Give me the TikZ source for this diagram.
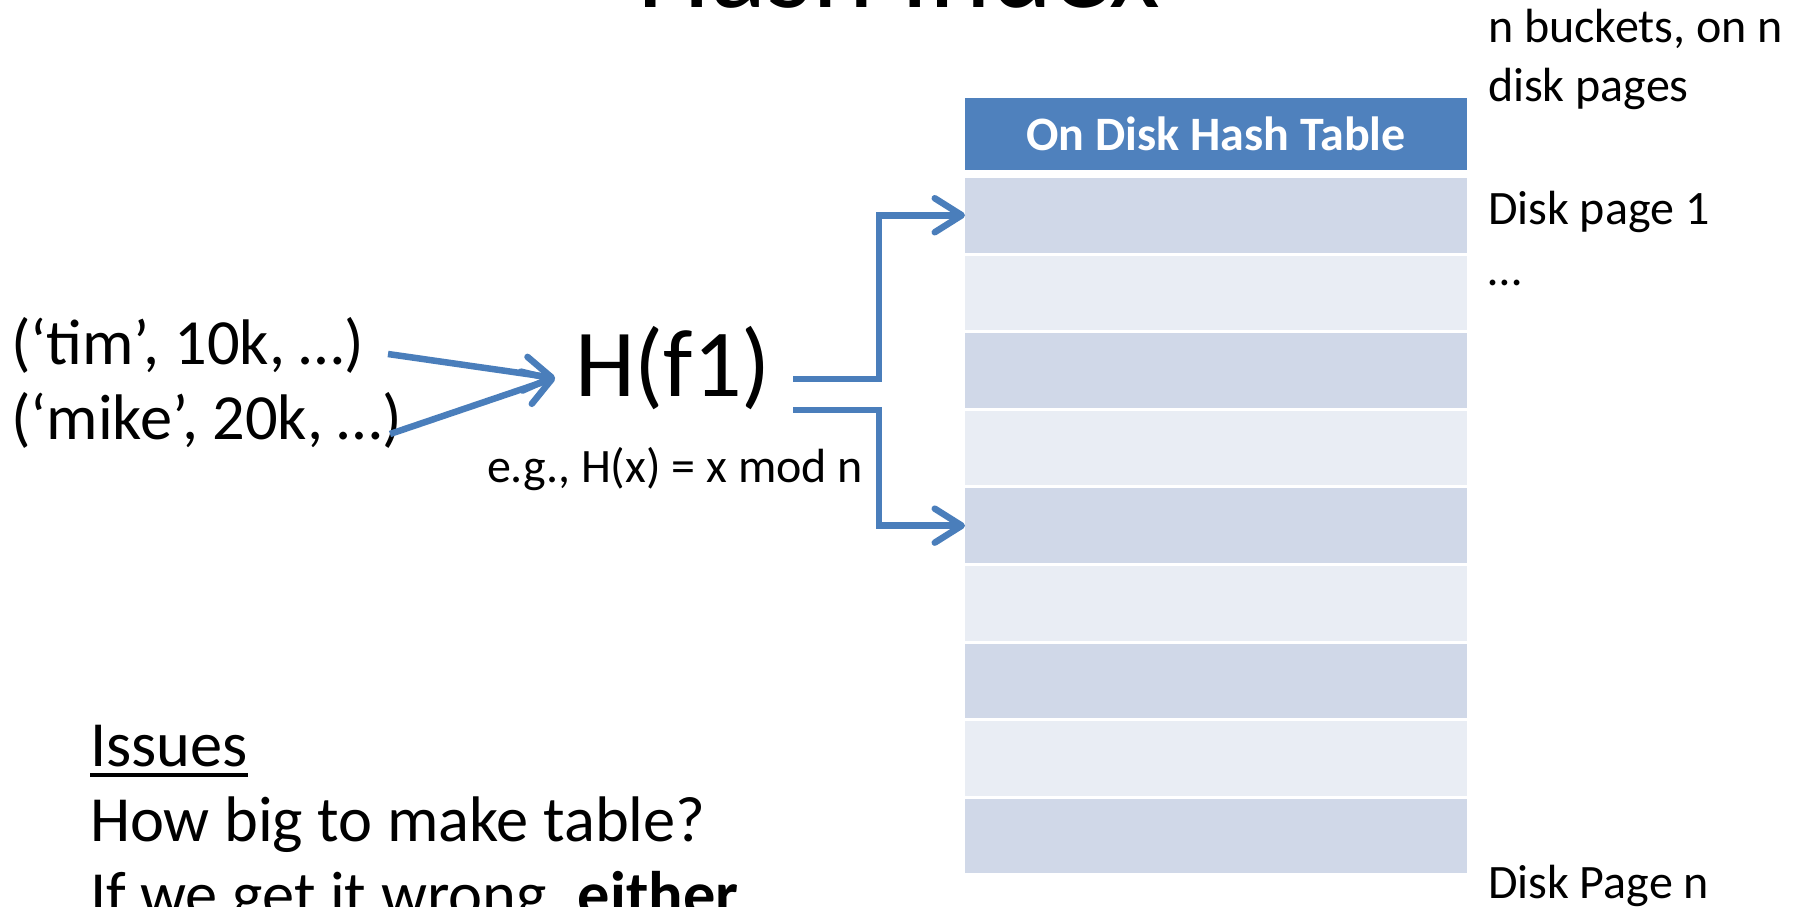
\documentclass[tikz,border=0pt]{standalone}
\usepackage{fontspec}
\setmainfont{Carlito}
\usetikzlibrary{arrows.meta}
\definecolor{hdrblue}{HTML}{4F81BD}
\definecolor{rowdark}{HTML}{D0D8E8}
\definecolor{rowlight}{HTML}{E9EDF4}
\definecolor{arrblue}{HTML}{4A7EBB}
\newcommand\fTitle{\fontsize{117}{140}\selectfont}
\newcommand\fBig{\fontsize{96}{115}\selectfont}
\newcommand\fMid{\fontsize{64.4}{78}\selectfont}
\newcommand\fSmall{\fontsize{48}{56}\selectfont}
\begin{document}
\begin{tikzpicture}[x=1pt,y=-1pt,
  txt/.style={inner sep=0pt, outer sep=0pt, anchor=base west},
  rowbox/.style={inner sep=0pt, outer sep=0pt, anchor=north west, minimum width=502pt, minimum height=74.5pt},
  conn/.style={draw=arrblue, line width=6.5pt, -{Straight Barb[length=27pt,width=34pt,round]}},
]
\useasboundingbox (0,0) rectangle (1801,907);
\fill[white] (0,0) rectangle (1801,907);

% title (cut off at top)
\node[inner sep=0pt, anchor=base, font=\fTitle] (title) at (899,8) {Hash Index};

% table
\node[rowbox, fill=hdrblue, minimum height=72pt, text=white, font=\fSmall\bfseries] (hdr) at (965,98) {On Disk Hash Table};
\foreach \i in {0,...,8}{
  \pgfmathtruncatemacro{\n}{\i+1}
  \pgfmathsetmacro{\yy}{178+77.6*\i}
  \ifodd\i \def\rc{rowlight}\else\def\rc{rowdark}\fi
  \node[rowbox, fill=\rc] (r\n) at (965,\yy) {};
}

% right labels
\node[txt, font=\fSmall] (nb) at (1488,43) {n buckets, on n};
\node[txt, font=\fSmall] (dp) at (1488,101) {disk pages};
\node[txt, font=\fSmall] (dp1) at (1488,224) {Disk page 1};
\node[txt, font=\fSmall] (dots) at (1488,285) {…};
\node[txt, font=\fSmall] (dpn) at (1488,898) {Disk Page n};

% left records
\node[txt, font=\fMid] (tim) at (11,364) {(‘tim’, 10k, …)};
\node[txt, font=\fMid] (mike) at (11,439) {(‘mike’, 20k, …)};

% hash function
\node[txt, font=\fBig] (h) at (575,396) {H(f1)};
\node[txt, font=\fSmall] (eg) at (487,482) {e.g., H(x) = x mod n};

% issues
\node[txt, font=\fMid] (issues) at (90,766) {Issues};
\draw[line width=3.5pt] ([yshift=-9pt]issues.base west) -- ([yshift=-9pt]issues.base east);
\node[txt, font=\fMid] (howbig) at (90,841) {How big to make table?};
\node[txt, font=\fMid] (ifwe) at (90,916) {If we get it wrong, \textbf{either}};

% connectors
\coordinate (timout) at (388,354);
\coordinate (mikeout) at (390,434);
\coordinate (hin) at (555,378);
\draw[conn] (timout) -- (hin);
\draw[conn] (mikeout) -- (hin);
\coordinate (hout1) at (793,379);
\coordinate (hout2) at (793,410);
\draw[conn] (hout1) -- (879,379) |- (r1.west);
\draw[conn] (hout2) -- (879,410) |- (r5.west);
\end{tikzpicture}
\end{document}
